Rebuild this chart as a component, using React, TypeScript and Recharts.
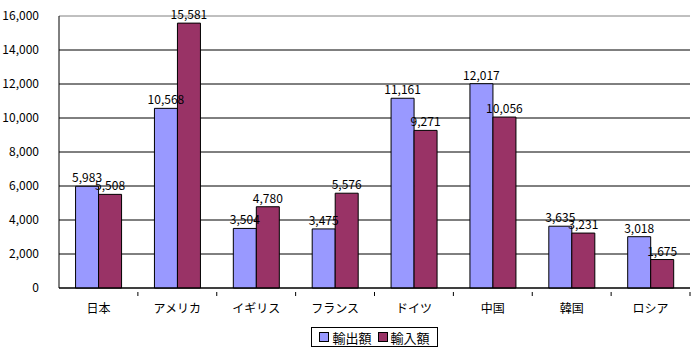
import React from 'react';
import {
    BarChart, Bar, XAxis, YAxis, CartesianGrid, LabelList, ReferenceLine,
} from 'recharts';

const countries = ['日本', 'アメリカ', 'イギリス', 'フランス', 'ドイツ', '中国', '韓国', 'ロシア'];
const exports = [5983, 10568, 3504, 3475, 11161, 12017, 3635, 3018];
const imports = [5508, 15581, 4780, 5576, 9271, 10056, 3231, 1675];
const yTicks = [0, 2000, 4000, 6000, 8000, 10000, 12000, 14000, 16000];

const data = countries.map((name, i) => ({ name, exp: exports[i], imp: imports[i] }));

const FONT = '"MS PGothic", "Noto Sans CJK JP", sans-serif';
const BLUE = '#9999FF';
const MAROON = '#993366';

const fmt = (v: number) => v.toLocaleString('en-US');

const W = 697;
const H = 351;
const LEFT = 59;
const RIGHT = 7;
const BAND = (W - LEFT - RIGHT) / countries.length;

function CatTick(props: any) {
    const { x, y, payload } = props;
    return (
        <g>
            <line x1={x + BAND / 2} x2={x + BAND / 2} y1={y - 4} y2={y} stroke="#000" />
            <text x={x} y={y + 17} textAnchor="middle" fontSize={12} fontFamily={FONT} fill="#000">
                {payload.value}
            </text>
        </g>
    );
}

export default function App() {
    return (
        <div style={{ position: 'fixed', left: 0, top: 0, width: W, height: H, background: '#fff' }}>
            <BarChart
                width={W}
                height={H}
                data={data}
                margin={{ top: 16, right: RIGHT, left: 0, bottom: 0 }}
                barCategoryGap="21%"
                barGap={0}
            >
                <CartesianGrid vertical={false} stroke="#000" horizontalValues={yTicks.slice(0, -1)} />
                <ReferenceLine y={16000} stroke="#808080" />
                <XAxis
                    dataKey="name"
                    height={63}
                    tickLine={false}
                    axisLine={{ stroke: '#000' }}
                    tick={<CatTick />}
                    interval={0}
                />
                <YAxis
                    width={LEFT}
                    domain={[0, 16000]}
                    ticks={yTicks}
                    tickFormatter={fmt}
                    tickLine={false}
                    axisLine={{ stroke: '#000' }}
                    tickMargin={14}
                    tick={{ fontSize: 12, fontFamily: FONT, fill: '#000' }}
                    interval={0}
                />
                <YAxis
                    yAxisId="r"
                    orientation="right"
                    width={0}
                    domain={[0, 16000]}
                    tick={false}
                    tickLine={false}
                    axisLine={{ stroke: '#808080' }}
                />
                <Bar dataKey="exp" fill={BLUE} stroke="#000" strokeWidth={1} isAnimationActive={false}>
                    <LabelList dataKey="exp" position="top" formatter={fmt} offset={4}
                        style={{ fontSize: 12, fontFamily: FONT, fill: '#000' }} />
                </Bar>
                <Bar dataKey="imp" fill={MAROON} stroke="#000" strokeWidth={1} isAnimationActive={false}>
                    <LabelList dataKey="imp" position="top" formatter={fmt} offset={4}
                        style={{ fontSize: 12, fontFamily: FONT, fill: '#000' }} />
                </Bar>
            </BarChart>
            <div
                style={{
                    position: 'absolute', left: 311, top: 327, width: 127, height: 20,
                    border: '1px solid #000', boxSizing: 'border-box', display: 'flex',
                    alignItems: 'center', justifyContent: 'center', gap: 6,
                    fontFamily: FONT, fontSize: 13, color: '#000',
                }}
            >
                <span style={{ display: 'flex', alignItems: 'center', gap: 3 }}>
                    <span style={{ width: 8, height: 8, background: BLUE, border: '1px solid #000' }} />
                    輸出額
                </span>
                <span style={{ display: 'flex', alignItems: 'center', gap: 3 }}>
                    <span style={{ width: 8, height: 8, background: MAROON, border: '1px solid #000' }} />
                    輸入額
                </span>
            </div>
        </div>
    );
}
